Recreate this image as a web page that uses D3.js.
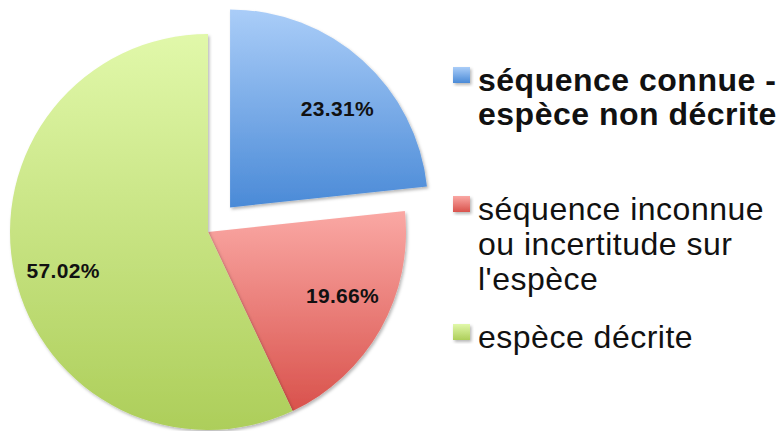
<!DOCTYPE html>
<html>
<head>
<meta charset="utf-8">
<script src="https://cdn.jsdelivr.net/npm/d3@7/dist/d3.min.js"></script>
<style>
  html, body { margin: 0; padding: 0; background: #fff; }
  svg { display: block; }
</style>
</head>
<body>
<svg id="chart" width="783" height="431"></svg>
<script>
const categories = ["séquence connue - espèce non décrite", "séquence inconnue ou incertitude sur l'espèce", "espèce décrite"];
const values = [23.31, 19.66, 57.02];
const valueLabels = ["23.31%", "19.66%", "57.02%"];
const legendLines = [["séquence connue -", "espèce non décrite"], ["séquence inconnue", "ou incertitude sur", "l'espèce"], ["espèce décrite"]];
const legendBold = [true, false, false];
const colorsTop = ["#aacdf8", "#faa8a4", "#e1f8aa"];
const colorsBottom = ["#4a8ad7", "#d9524c", "#adce5a"];

// layout (not data)
const explode = [33, 0, 0];
const labelNudge = [[8, 11], [5, -9], [0, 6]];
const legendBaseline = [91, 220, 348];
const legendLineH = [34, 35, 35];

const svg = d3.select("#chart");
const defs = svg.append("defs");
values.forEach((v, i) => {
  const g = defs.append("linearGradient").attr("id", "grad" + i)
    .attr("x1", 0).attr("y1", 0).attr("x2", 0).attr("y2", 1);
  g.append("stop").attr("offset", "0%").attr("stop-color", colorsTop[i]);
  g.append("stop").attr("offset", "100%").attr("stop-color", colorsBottom[i]);
});
const f = defs.append("filter").attr("id", "shadow").attr("x", "-10%").attr("y", "-10%").attr("width", "130%").attr("height", "130%");
f.append("feDropShadow").attr("dx", 1.5).attr("dy", 2).attr("stdDeviation", 1.8).attr("flood-color", "#000").attr("flood-opacity", 0.28);

const cx = 208, cy = 232, r = 198;
const pie = d3.pie().sort(null).value(d => d);
const arcs = pie(values);
const arc = d3.arc().innerRadius(0).outerRadius(r);
const labelArc = d3.arc().innerRadius(r * 0.75).outerRadius(r * 0.75);

const g = svg.append("g").attr("transform", `translate(${cx},${cy})`);
const slices = g.selectAll("g.slice").data(arcs).enter().append("g")
  .attr("class", "slice")
  .attr("transform", (d, i) => {
    const a = (d.startAngle + d.endAngle) / 2;
    return `translate(${Math.sin(a) * explode[i]},${-Math.cos(a) * explode[i]})`;
  });
slices.append("path").attr("d", arc)
  .attr("fill", (d, i) => `url(#grad${i})`)
  .attr("filter", "url(#shadow)");
slices.append("text")
  .attr("transform", (d, i) => {
    const c = labelArc.centroid(d);
    return `translate(${c[0] + labelNudge[i][0]},${c[1] + labelNudge[i][1]})`;
  })
  .attr("text-anchor", "middle")
  .attr("dominant-baseline", "central")
  .attr("font-family", "Liberation Sans, Arial, sans-serif")
  .attr("font-weight", "bold")
  .attr("font-size", 21)
  .attr("letter-spacing", 0.3)
  .attr("fill", "#111")
  .text((d, i) => valueLabels[i]);

// legend
const leg = svg.append("g");
categories.forEach((c, i) => {
  const y0 = legendBaseline[i];
  leg.append("rect").attr("x", 453).attr("y", y0 - 24).attr("width", 17).attr("height", 16)
    .attr("fill", `url(#grad${i})`).attr("filter", "url(#shadow)");
  const t = leg.append("text")
    .attr("x", 478).attr("y", y0)
    .attr("font-family", "Liberation Sans, Arial, sans-serif")
    .attr("font-size", 32)
    .attr("letter-spacing", 0.5)
    .attr("font-weight", legendBold[i] ? "bold" : "normal")
    .attr("fill", "#111");
  legendLines[i].forEach((ln, j) => {
    t.append("tspan").attr("x", 478).attr("y", y0 + j * legendLineH[i]).text(ln);
  });
});
</script>
</body>
</html>
